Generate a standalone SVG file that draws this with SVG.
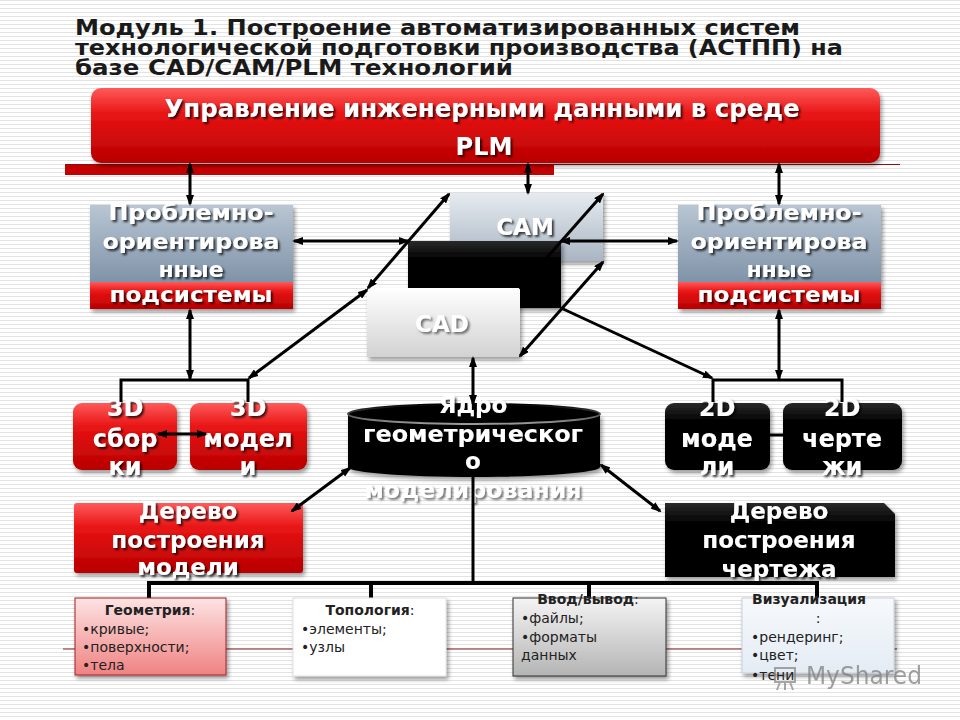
<svg xmlns="http://www.w3.org/2000/svg" width="960" height="720" viewBox="0 0 960 720">
<defs>
<pattern id="stripes" width="8" height="4" patternUnits="userSpaceOnUse">
<rect width="8" height="4" fill="#ffffff"/>
<rect width="8" height="1" fill="#e3e3e3"/>
</pattern>
<linearGradient id="gRed" x1="0" y1="0" x2="0" y2="1">
<stop offset="0" stop-color="#ff5a5a"/>
<stop offset="0.35" stop-color="#e81414"/>
<stop offset="1" stop-color="#b80000"/>
</linearGradient>
<linearGradient id="gSteel" x1="0" y1="0" x2="0" y2="1">
<stop offset="0" stop-color="#b9c6d3"/>
<stop offset="1" stop-color="#7f93a8"/>
</linearGradient>
<linearGradient id="gCam" x1="0" y1="0" x2="0" y2="1">
<stop offset="0" stop-color="#e6ebf0"/>
<stop offset="1" stop-color="#a9b5c3"/>
</linearGradient>
<linearGradient id="gCad" x1="0" y1="0" x2="0" y2="1">
<stop offset="0" stop-color="#ffffff"/>
<stop offset="1" stop-color="#d2d2d2"/>
</linearGradient>
<linearGradient id="gBlack" x1="0" y1="0" x2="0" y2="1">
<stop offset="0" stop-color="#2a2a2a"/>
<stop offset="0.25" stop-color="#050505"/>
<stop offset="1" stop-color="#000000"/>
</linearGradient>
<linearGradient id="gPink" x1="0" y1="0" x2="0" y2="1">
<stop offset="0" stop-color="#fde3e3"/>
<stop offset="1" stop-color="#f08282"/>
</linearGradient>
<linearGradient id="gGray" x1="0" y1="0" x2="0" y2="1">
<stop offset="0" stop-color="#f4f4f4"/>
<stop offset="1" stop-color="#b4b4b4"/>
</linearGradient>
<linearGradient id="gIce" x1="0" y1="0" x2="0" y2="1">
<stop offset="0" stop-color="#f7f9fc"/>
<stop offset="1" stop-color="#e4ecf4"/>
</linearGradient>
<linearGradient id="gRim" x1="0" y1="0" x2="0" y2="1">
<stop offset="0" stop-color="#000000"/>
<stop offset="1" stop-color="#9a9a9a"/>
</linearGradient>
<filter id="ts" x="-10%" y="-30%" width="130%" height="170%">
<feDropShadow dx="2" dy="2" stdDeviation="1.2" flood-color="#000" flood-opacity="0.75"/>
</filter>
<filter id="tsg" x="-10%" y="-30%" width="130%" height="170%">
<feDropShadow dx="2" dy="2" stdDeviation="1.2" flood-color="#555" flood-opacity="0.8"/>
</filter>
<filter id="bs" x="-10%" y="-10%" width="125%" height="130%">
<feDropShadow dx="2" dy="3" stdDeviation="2" flood-color="#000" flood-opacity="0.4"/>
</filter>
<marker id="ah" viewBox="0 0 11 8" refX="9" refY="4" markerWidth="11" markerHeight="8" markerUnits="userSpaceOnUse" orient="auto-start-reverse">
<path d="M0,0 L11,4 L0,8 Z" fill="#000"/>
</marker>
<style>
.w{font-family:"DejaVu Sans","Noto Sans",sans-serif;font-weight:bold;fill:#fff;text-anchor:middle;filter:url(#ts)}
.wg{font-family:"DejaVu Sans","Noto Sans",sans-serif;font-weight:bold;fill:#fff;text-anchor:middle;filter:url(#tsg)}
.title{font-family:"DejaVu Sans","Noto Sans",sans-serif;font-weight:bold;font-size:22px;fill:#1a1a1a}
.s{font-family:"DejaVu Sans","Noto Sans",sans-serif;font-size:14px;fill:#222}
.sb{font-weight:bold}
.c{stroke:#000;stroke-width:3;fill:none}
.ca{stroke:#000;stroke-width:3;fill:none;marker-start:url(#ah);marker-end:url(#ah)}
.ce{stroke:#000;stroke-width:3;fill:none;marker-end:url(#ah)}
.bus{stroke:#000;stroke-width:4;fill:none}
</style>
</defs>
<rect width="960" height="720" fill="url(#stripes)"/>
<!-- decorative template lines -->
<line x1="65" y1="164.5" x2="900" y2="164.5" stroke="#8a1010" stroke-width="1.2"/>
<rect x="65" y="165" width="489" height="10" fill="#c40000"/>
<line x1="63" y1="649" x2="897" y2="649" stroke="#8a1a1a" stroke-width="1"/>

<g id="title">
<text class="title" x="75" y="35" textLength="725" lengthAdjust="spacingAndGlyphs">Модуль 1. Построение  автоматизированных систем</text>
<text class="title" x="75" y="55" textLength="768" lengthAdjust="spacingAndGlyphs">технологической подготовки производства (АСТПП) на</text>
<text class="title" x="75" y="75" textLength="438" lengthAdjust="spacingAndGlyphs">базе CAD/CAM/PLM технологий</text>
</g>

<g id="plm">
<rect x="91" y="88" width="789" height="75" rx="10" fill="url(#gRed)" filter="url(#bs)"/>
<text class="w" x="482" y="117" font-size="24" textLength="635" lengthAdjust="spacingAndGlyphs">Управление инженерными данными в среде</text>
<text class="w" x="484" y="155" font-size="24">PLM</text>
</g>

<g id="pos-left">
<g filter="url(#bs)">
<rect x="90" y="205" width="203" height="77" fill="url(#gSteel)"/>
<rect x="90" y="282" width="203" height="27" fill="url(#gRed)"/>
</g>
<text class="w" x="191" y="220" font-size="22" textLength="165" lengthAdjust="spacingAndGlyphs">Проблемно-</text>
<text class="w" x="191" y="249" font-size="22" textLength="177" lengthAdjust="spacingAndGlyphs">ориентирова</text>
<text class="w" x="191" y="277" font-size="22">нные</text>
<text class="w" x="191" y="302" font-size="22" textLength="163" lengthAdjust="spacingAndGlyphs">подсистемы</text>
</g>

<g id="pos-right">
<g filter="url(#bs)">
<rect x="678" y="205" width="203" height="77" fill="url(#gSteel)"/>
<rect x="678" y="282" width="203" height="27" fill="url(#gRed)"/>
</g>
<text class="w" x="779" y="220" font-size="22" textLength="165" lengthAdjust="spacingAndGlyphs">Проблемно-</text>
<text class="w" x="779" y="249" font-size="22" textLength="177" lengthAdjust="spacingAndGlyphs">ориентирова</text>
<text class="w" x="779" y="277" font-size="22">нные</text>
<text class="w" x="779" y="302" font-size="22" textLength="163" lengthAdjust="spacingAndGlyphs">подсистемы</text>
</g>

<g id="cam">
<rect x="450" y="193" width="153" height="68" fill="url(#gCam)" filter="url(#bs)"/>
<text class="w" x="525" y="235" font-size="23">CAM</text>
</g>
<g id="blackbox">
<rect x="408" y="241" width="153" height="67" fill="url(#gBlack)" filter="url(#bs)"/>
</g>
<g id="cad">
<rect x="367" y="288" width="153" height="69" fill="url(#gCad)" filter="url(#bs)"/>
<text class="wg" x="442" y="332" font-size="23">CAD</text>
</g>

<g id="kernel">
<path d="M348,414 L348,467 A126,10 0 0 0 600,467 L600,414 Z" fill="#000" filter="url(#bs)"/>
<ellipse cx="474" cy="414" rx="126" ry="10" fill="#000" stroke="url(#gRim)" stroke-width="2"/>
<text class="w" x="473" y="413" font-size="23">Ядро</text>
<text class="w" x="473" y="442" font-size="23" textLength="220" lengthAdjust="spacingAndGlyphs">геометрическог</text>
<text class="w" x="473" y="469" font-size="23">о</text>
<text class="wg" x="473" y="498" font-size="23" textLength="217" lengthAdjust="spacingAndGlyphs">моделирования</text>
</g>

<g id="asm3d">
<rect x="73" y="403" width="104" height="67" rx="9" fill="url(#gRed)" filter="url(#bs)"/>
<text class="w" x="125" y="416" font-size="24">3D</text>
<text class="w" x="125" y="447" font-size="24">сбор</text>
<text class="w" x="125" y="475" font-size="24">ки</text>
</g>
<g id="mod3d">
<rect x="190" y="403" width="117" height="67" rx="9" fill="url(#gRed)" filter="url(#bs)"/>
<text class="w" x="248" y="416" font-size="24">3D</text>
<text class="w" x="248" y="447" font-size="24">модел</text>
<text class="w" x="248" y="475" font-size="24">и</text>
</g>
<g id="mod2d">
<rect x="665" y="403" width="105" height="67" rx="9" fill="url(#gBlack)" filter="url(#bs)"/>
<text class="w" x="717" y="416" font-size="24">2D</text>
<text class="w" x="717" y="447" font-size="24">моде</text>
<text class="w" x="717" y="475" font-size="24">ли</text>
</g>
<g id="drw2d">
<rect x="783" y="403" width="119" height="67" rx="9" fill="url(#gBlack)" filter="url(#bs)"/>
<text class="w" x="842" y="416" font-size="24">2D</text>
<text class="w" x="842" y="447" font-size="24">черте</text>
<text class="w" x="842" y="475" font-size="24">жи</text>
</g>

<g id="tree-model">
<rect x="74" y="503" width="229" height="70" rx="3" fill="url(#gRed)" filter="url(#bs)"/>
<text class="w" x="188" y="519" font-size="23">Дерево</text>
<text class="w" x="188" y="548" font-size="23">построения</text>
<text class="w" x="188" y="575" font-size="23">модели</text>
</g>
<g id="tree-drawing">
<path d="M665,503 L884,503 L895,514 L895,577 L665,577 Z" fill="url(#gBlack)" filter="url(#bs)"/>
<text class="w" x="779" y="519" font-size="23">Дерево</text>
<text class="w" x="779" y="548" font-size="23">построения</text>
<text class="w" x="779" y="577" font-size="23">чертежа</text>
</g>

<g id="connectors">
<line class="ca" x1="190" y1="164" x2="190" y2="204"/>
<line class="ca" x1="528" y1="164" x2="528" y2="193"/>
<line class="ca" x1="779" y1="164" x2="779" y2="204"/>
<line class="ca" x1="294" y1="241" x2="408" y2="241"/>
<line class="ca" x1="561" y1="241" x2="677" y2="241"/>
<line class="ca" x1="368" y1="288" x2="449" y2="194"/>
<line class="ca" x1="520" y1="288" x2="603" y2="194"/>
<line class="ca" x1="520" y1="356" x2="603" y2="262"/>
<line class="ca" x1="249" y1="378" x2="367" y2="290"/>
<line class="ce" x1="561" y1="308" x2="712" y2="378"/>
<line class="ca" x1="190" y1="310" x2="190" y2="379"/>
<line class="ca" x1="779" y1="310" x2="779" y2="379"/>
<line class="ca" x1="473" y1="358" x2="473" y2="404"/>
<line class="ca" x1="350" y1="468" x2="292" y2="511"/>
<line class="ca" x1="601" y1="465" x2="660" y2="511"/>
<line class="ca" x1="158" y1="434" x2="206" y2="434"/>
<line class="c" x1="770" y1="435" x2="783" y2="435"/>
<polyline class="c" points="121,402 121,380 248,380 248,402" stroke-width="3.5"/>
<polyline class="c" points="713,402 713,380 842,380 842,402" stroke-width="3.5"/>
<line class="c" x1="473" y1="477" x2="473" y2="583"/>
<line class="bus" x1="147" y1="583" x2="819" y2="583"/>
<line class="bus" x1="149" y1="583" x2="149" y2="598"/>
<line class="bus" x1="371" y1="583" x2="371" y2="598"/>
<line class="bus" x1="589" y1="583" x2="589" y2="598"/>
<line class="bus" x1="817" y1="583" x2="817" y2="598"/>
</g>

<g id="geometry">
<rect x="75" y="598" width="151" height="77" fill="url(#gPink)" stroke="#a02020" stroke-width="1" filter="url(#bs)"/>
<text class="s" x="150" y="615" text-anchor="middle"><tspan class="sb">Геометрия</tspan>:</text>
<text class="s" x="82" y="634">•кривые;</text>
<text class="s" x="82" y="652">•поверхности;</text>
<text class="s" x="82" y="670">•тела</text>
</g>
<g id="topology">
<rect x="293" y="598" width="153" height="78" fill="#ffffff" stroke="#e0e0e0" stroke-width="1" filter="url(#bs)"/>
<text class="s" x="370" y="615" text-anchor="middle"><tspan class="sb">Топология</tspan>:</text>
<text class="s" x="301" y="634">•элементы;</text>
<text class="s" x="301" y="652">•узлы</text>
</g>
<g id="io">
<rect x="513" y="598" width="153" height="78" fill="url(#gGray)" stroke="#333" stroke-width="1" filter="url(#bs)"/>
<text class="s" x="588" y="604" text-anchor="middle"><tspan class="sb">Ввод/вывод</tspan>:</text>
<text class="s" x="521" y="623">•файлы;</text>
<text class="s" x="521" y="642">•форматы</text>
<text class="s" x="521" y="660">данных</text>
</g>
<g id="visual">
<rect x="742" y="598" width="152" height="75" fill="url(#gIce)" stroke="#c8d0dc" stroke-width="1" filter="url(#bs)"/>
<text class="s sb" x="752" y="604">Визуализация</text>
<text class="s" x="818" y="623" text-anchor="middle">:</text>
<text class="s" x="751" y="642">•рендеринг;</text>
<text class="s" x="751" y="660">•цвет;</text>
<text class="s" x="751" y="680">•тени</text>
</g>

<g id="watermark" opacity="0.75">
<rect x="775" y="668" width="20" height="14" fill="none" stroke="#888" stroke-width="2"/>
<line x1="780" y1="682" x2="777" y2="690" stroke="#888" stroke-width="2"/>
<line x1="790" y1="682" x2="793" y2="690" stroke="#888" stroke-width="2"/>
<line x1="785" y1="682" x2="785" y2="690" stroke="#888" stroke-width="2"/>
<text x="806" y="684" font-family="DejaVu Sans, sans-serif" font-size="24" fill="#808080" textLength="116" lengthAdjust="spacingAndGlyphs">MyShared</text>
</g>
</svg>
